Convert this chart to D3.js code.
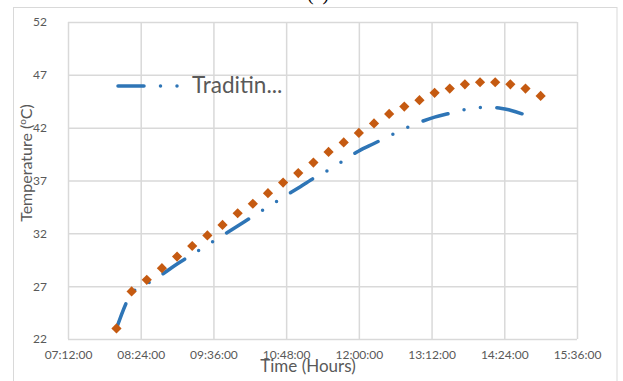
<!DOCTYPE html>
<html>
<head>
<meta charset="utf-8">
<script src="https://cdn.jsdelivr.net/npm/d3@7/dist/d3.min.js"></script>
<style>
  html, body { margin: 0; padding: 0; background: #fff; }
  svg { display: block; }
  text { font-family: Lato, "Open Sans", sans-serif; fill: #595959; }
</style>
</head>
<body>
<svg id="chart" width="623" height="381"></svg>
<script>
// Sample times (15-minute readings)
const sampleTimes = ["08:00","08:15","08:30","08:45","09:00","09:15","09:30","09:45",
  "10:00","10:15","10:30","10:45","11:00","11:15","11:30","11:45","12:00","12:15",
  "12:30","12:45","13:00","13:15","13:30","13:45","14:00","14:15","14:30","14:45","15:00"];

// Temperature readings (°C)
const traditional = [23.0, 26.3, 27.2, 28.1, 29.1, 30.0, 30.9, 31.8, 32.7, 33.6, 34.5, 35.4,
  36.3, 37.2, 38.0, 38.9, 39.8, 40.5, 41.2, 41.9, 42.5, 43.0, 43.35, 43.7, 43.9, 43.9, 43.65, 43.2];
const modified = [23.0, 26.5, 27.6, 28.7, 29.8, 30.8, 31.8, 32.8, 33.9, 34.8, 35.8, 36.8,
  37.7, 38.7, 39.7, 40.6, 41.5, 42.4, 43.3, 44.0, 44.6, 45.3, 45.7, 46.1, 46.3, 46.3, 46.1, 45.7, 45.0];

// Axis ticks
const xTickLabels = ["07:12","08:24","09:36","10:48","12:00","13:12","14:24","15:36"];
const yTickValues = [22, 27, 32, 37, 42, 47, 52];

const legendLabel = "Traditin...";

const parseT = d3.timeParse("%H:%M");
const svg = d3.select("#chart");

const plot = { left: 68, right: 577, top: 22, bottom: 339 };

const x = d3.scaleTime()
  .domain([parseT(xTickLabels[0]), parseT(xTickLabels[xTickLabels.length - 1])])
  .range([plot.left, plot.right]);
const y = d3.scaleLinear()
  .domain([yTickValues[0], yTickValues[yTickValues.length - 1]])
  .range([plot.bottom, plot.top]);

const gridColor = "#d9d9d9";

// Chart frame
svg.append("rect")
  .attr("x", 13.5).attr("y", 7.5).attr("width", 603.5).attr("height", 390)
  .attr("fill", "none").attr("stroke", gridColor).attr("stroke-width", 1);

// Panel title, running off the top edge
svg.append("text")
  .attr("x", 318).attr("y", 0)
  .attr("text-anchor", "middle")
  .style("font-family", "'Liberation Serif', serif")
  .style("font-size", "20px")
  .style("fill", "#000")
  .text("(a)");

// Grid
const xTicks = xTickLabels.map(parseT);
const xAxis = d3.axisBottom(x)
  .tickValues(xTicks)
  .tickSize(-(plot.bottom - plot.top))
  .tickPadding(0)
  .tickFormat(d3.timeFormat("%H:%M:%S"));
const gx = svg.append("g")
  .attr("transform", `translate(0,${plot.bottom})`)
  .call(xAxis);
gx.select(".domain").remove();
gx.selectAll(".tick line").attr("stroke", gridColor).attr("stroke-width", 1.5);
gx.selectAll(".tick text")
  .attr("y", 20)
  .attr("dy", 0)
  .style("font-size", "12px")
  .style("font-family", "Lato, sans-serif")
  .attr("fill", "#595959");

const yAxis = d3.axisLeft(y)
  .tickValues(yTickValues)
  .tickSize(-(plot.right - plot.left))
  .tickPadding(0);
const gy = svg.append("g")
  .attr("transform", `translate(${plot.left},0)`)
  .call(yAxis);
gy.select(".domain").remove();
gy.selectAll(".tick line").attr("stroke", gridColor).attr("stroke-width", 1.5);
gy.selectAll(".tick text")
  .attr("x", -21)
  .attr("dy", "0.32em")
  .style("font-size", "12px")
  .style("font-family", "Lato, sans-serif")
  .attr("fill", "#595959");

// Series
const blue = "#2e75b6";
const orange = "#c55a11";
const dashPattern = "26 16.5 0 16.5 0 16.5";

const lineGen = d3.line()
  .x((d, i) => x(parseT(sampleTimes[i])))
  .y(d => y(d))
  .curve(d3.curveMonotoneX);

svg.append("path")
  .datum(traditional)
  .attr("d", lineGen)
  .attr("fill", "none")
  .attr("stroke", blue)
  .attr("stroke-width", 3.5)
  .attr("stroke-linecap", "round")
  .attr("stroke-dasharray", dashPattern);

const diamond = d3.symbol().type(d3.symbolSquare).size(52);
svg.append("g")
  .selectAll("path")
  .data(modified)
  .join("path")
  .attr("d", diamond)
  .attr("transform", (d, i) => `translate(${x(parseT(sampleTimes[i]))},${y(d)}) rotate(45)`)
  .attr("fill", orange);

// Legend
svg.append("clipPath").attr("id", "legclip")
  .append("rect").attr("x", 110).attr("y", 78).attr("width", 74).attr("height", 16);
const leg = svg.append("g");
leg.append("line")
  .attr("x1", 118).attr("x2", 300).attr("y1", 86).attr("y2", 86)
  .attr("stroke", blue).attr("stroke-width", 3.5)
  .attr("stroke-linecap", "round")
  .attr("stroke-dasharray", dashPattern)
  .attr("clip-path", "url(#legclip)");
leg.append("text")
  .attr("x", 192).attr("y", 93)
  .style("font-size", "22.5px")
  .text(legendLabel);

// Axis titles
svg.append("text")
  .attr("x", 308).attr("y", 372)
  .attr("text-anchor", "middle")
  .style("font-size", "17px")
  .text("Time (Hours)");

const yt = svg.append("text")
  .attr("transform", "translate(32,163) rotate(-90)")
  .attr("text-anchor", "middle")
  .style("font-size", "16px");
yt.append("tspan").text("Temperature (");
yt.append("tspan").attr("baseline-shift", "super").style("font-size", "10px").text("o");
yt.append("tspan").text("C)");
</script>
</body>
</html>
